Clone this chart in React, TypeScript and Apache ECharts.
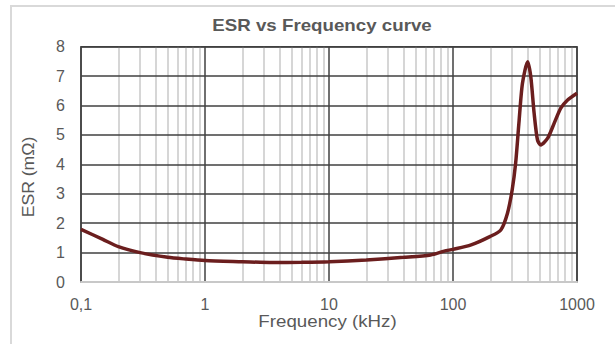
import React, { useEffect, useRef } from "react";
import * as echarts from "echarts";

const freqKHz = [0.1, 0.15, 0.2, 0.3, 0.5, 0.7, 1, 2, 3.5, 6, 10, 20, 40, 66, 85, 100, 140, 200, 243, 275, 300, 320, 340, 363, 400, 424, 451, 480, 510, 580, 655, 740, 840, 1000];
const esrMOhm = [1.79, 1.45, 1.2, 1.0, 0.84, 0.78, 0.73, 0.69, 0.66, 0.67, 0.69, 0.75, 0.84, 0.92, 1.05, 1.11, 1.26, 1.55, 1.77, 2.34, 3.13, 4.04, 5.4, 6.75, 7.49, 6.98, 5.74, 4.83, 4.66, 4.89, 5.4, 5.91, 6.19, 6.42];
const minorGridKHz = [
  0.2, 0.3, 0.4, 0.5, 0.6, 0.7, 0.8, 0.9,
  2, 3, 4, 5, 6, 7, 8, 9,
  20, 30, 40, 50, 60, 70, 80, 90,
  200, 300, 400, 500, 600, 700, 800, 900,
];

const FONT = "'Liberation Sans', Arial, sans-serif";
const TEXT = "#595959";
const MAJOR = "#404040";
const MINOR = "#c8c8c8";

export default function App() {
  const ref = useRef<HTMLDivElement>(null);
  useEffect(() => {
    const chart = echarts.init(ref.current!, null, { renderer: "svg" });
    const data = freqKHz.map((f, i) => [f, esrMOhm[i]]);
    chart.setOption({
      animation: false,
      backgroundColor: "#ffffff",
      textStyle: { fontFamily: FONT },
      grid: {
        left: 81,
        right: 38,
        top: 46.7,
        bottom: 62,
        show: true,
        borderColor: MAJOR,
        borderWidth: 1.5,
        backgroundColor: "transparent",
      },
      xAxis: {
        type: "log",
        logBase: 10,
        min: 0.1,
        max: 1000,
        z: 3,
        axisLine: { show: true, lineStyle: { color: MINOR, width: 2 } },
        axisTick: { show: false },
        axisLabel: {
          color: TEXT,
          fontSize: 16,
          fontFamily: FONT,
          margin: 14,
          formatter: (v: number) => (v < 0.5 ? "0,1" : String(Math.round(v))),
        },
        splitLine: { show: true, lineStyle: { color: MAJOR, width: 1.5 } },
      },
      yAxis: {
        type: "value",
        min: 0,
        max: 8,
        interval: 1,
        z: 2,
        axisLine: { show: false },
        axisTick: { show: false },
        axisLabel: { color: TEXT, fontSize: 16, fontFamily: FONT, margin: 16 },
        splitLine: { show: true, lineStyle: { color: MAJOR, width: 1.5 } },
      },
      graphic: [
        {
          type: "rect",
          shape: { x: 11, y: 6, width: 700, height: 500 },
          style: { fill: "none", stroke: "#d9d9d9", lineWidth: 2 },
          silent: true,
          z: -10,
        },
        {
          type: "text",
          x: 322,
          y: 25.5,
          scaleX: 1.17,
          style: {
            text: "ESR vs Frequency curve",
            fill: TEXT,
            font: `bold 16px ${FONT}`,
            textAlign: "center",
            textVerticalAlign: "middle",
          },
        },
        {
          type: "text",
          x: 327.5,
          y: 321.5,
          scaleX: 1.17,
          style: {
            text: "Frequency (kHz)",
            fill: TEXT,
            font: `16px ${FONT}`,
            textAlign: "center",
            textVerticalAlign: "middle",
          },
        },
        {
          type: "text",
          x: 28.5,
          y: 177,
          rotation: Math.PI / 2,
          scaleX: 1.1,
          style: {
            text: "ESR (mΩ)",
            fill: TEXT,
            font: `16px ${FONT}`,
            textAlign: "center",
            textVerticalAlign: "middle",
          },
        },
      ],
      series: [
        {
          type: "line",
          data: [],
          z: 1,
          silent: true,
          markLine: {
            silent: true,
            symbol: ["none", "none"],
            label: { show: false },
            lineStyle: { color: MINOR, width: 1.5, type: "solid" },
            emphasis: { disabled: true },
            data: minorGridKHz.map((f) => ({ xAxis: f })),
            z: 1,
          },
        },
        {
          type: "line",
          data,
          z: 5,
          smooth: 0.25,
          showSymbol: false,
          symbol: "none",
          lineStyle: { color: "#6b1e1e", width: 3.5 },
        },
      ],
    });
    return () => chart.dispose();
  }, []);
  return (
    <div
      ref={ref}
      style={{ position: "fixed", left: 0, top: 0, width: 615, height: 344 }}
    />
  );
}
